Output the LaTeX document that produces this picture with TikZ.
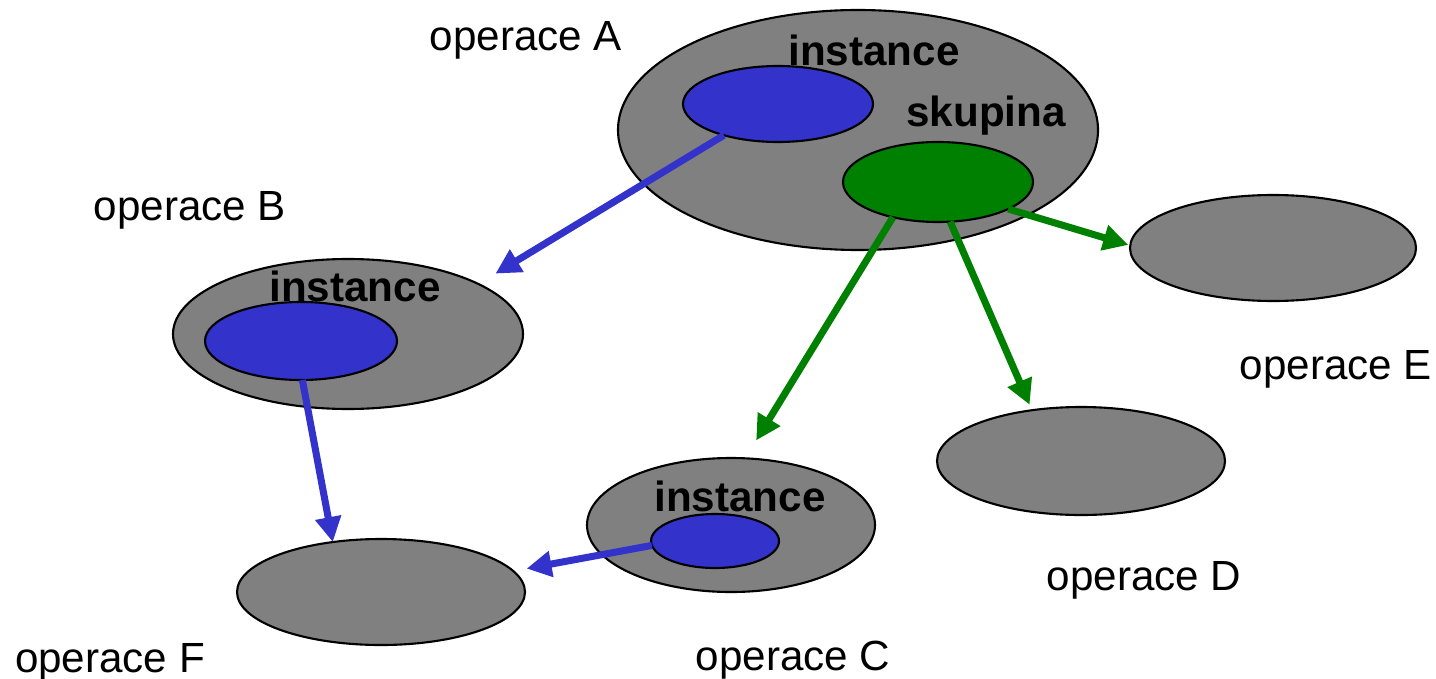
\documentclass[tikz,border=0pt]{standalone}
\usepackage{fontspec}
\setmainfont{Liberation Sans}
\usepackage{tikz}
\usetikzlibrary{shapes.geometric,arrows.meta}
\definecolor{opgray}{HTML}{808080}
\definecolor{instblue}{HTML}{3333CC}
\definecolor{grpgreen}{HTML}{008000}
\tikzstyle{oper} = [ellipse, draw=black, line width=0.6pt, fill=opgray, inner sep=0pt, outer sep=0pt]
\tikzstyle{inst} = [oper, fill=instblue]
\tikzstyle{grp} = [oper, fill=grpgreen]
\tikzstyle{lbl} = [font=\fontsize{12}{14}\selectfont, inner sep=0pt]
\tikzstyle{blbl} = [lbl, font=\fontsize{12}{14}\selectfont\bfseries]
\tikzstyle{blink} = [line width=2pt, draw=instblue, -{Triangle[length=2.5mm,width=2.5mm]}]
\tikzstyle{glink} = [blink, draw=grpgreen]

\begin{document}
\begin{tikzpicture}
\useasboundingbox (0,0) rectangle (14.36,6.78);

% operace A
\node (opA) [oper, minimum width=4.8cm, minimum height=2.4cm] at (8.58,5.48) {};
\node (ainst) [inst, minimum width=1.9cm, minimum height=0.76cm] at (7.78,5.74) {};
\node (skup) [grp, minimum width=1.9cm, minimum height=0.8cm] at (9.38,4.96) {};
\node (opAlbl) [lbl] at (5.26,6.38) {operace A};
\node (ainstlbl) [blbl] at (8.74,6.28) {instance};
\node (skuplbl) [blbl] at (9.86,5.62) {skupina};

% operace B
\node (opB) [oper, minimum width=3.5cm, minimum height=1.5cm] at (3.48,3.44) {};
\node (binst) [inst, minimum width=1.92cm, minimum height=0.78cm] at (3.01,3.37) {};
\node (opBlbl) [lbl] at (1.90,4.68) {operace B};
\node (binstlbl) [blbl] at (3.55,3.92) {instance};

% operace C
\node (opC) [oper, minimum width=2.88cm, minimum height=1.34cm] at (7.31,1.53) {};
\node (cinst) [inst, minimum width=1.28cm, minimum height=0.54cm] at (7.15,1.37) {};
\node (opClbl) [lbl] at (7.93,0.18) {operace C};
\node (cinstlbl) [blbl] at (7.40,1.82) {instance};

% operace D, E, F
\node (opD) [oper, minimum width=2.88cm, minimum height=1.08cm] at (10.81,2.17) {};
\node (opDlbl) [lbl] at (11.44,0.98) {operace D};
\node (opE) [oper, minimum width=2.86cm, minimum height=1.06cm] at (12.73,4.30) {};
\node (opElbl) [lbl] at (13.36,3.09) {operace E};
\node (opF) [oper, minimum width=2.88cm, minimum height=1.06cm] at (3.81,0.86) {};
\node (opFlbl) [lbl] at (1.10,0.16) {operace F};

% vazby
\draw [blink, shorten >=2mm] (ainst.210) -- (opB.21);
\draw [blink] (binst.272) -- (opF.134);
\draw [blink, shorten >=1.35mm] (cinst.184) -- (opF.9);
\draw [glink, shorten >=2.1mm] (skup.218) -- (opC.78);
\draw [glink, shorten >=0.6mm] (skup.287) -- (opD.134);
\draw [glink, shorten >=0.2mm] (skup.339) -- (opE.179);
\end{tikzpicture}
\end{document}
